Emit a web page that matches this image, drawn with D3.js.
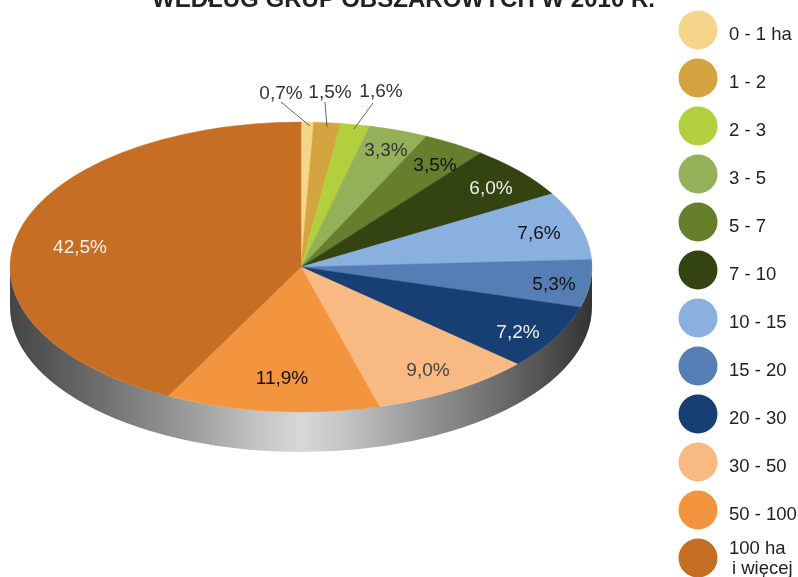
<!DOCTYPE html>
<html>
<head>
<meta charset="utf-8">
<script src="https://cdn.jsdelivr.net/npm/d3@7"></script>
<style>
  html, body { margin: 0; background: #fff; }
  svg { display: block; filter: blur(0.35px); }
  text { font-family: "Liberation Sans", Arial, sans-serif; }
</style>
</head>
<body>
<svg id="visArea" width="798" height="577"></svg>
<script>
const groups = ['0 - 1 ha', '1 - 2', '2 - 3', '3 - 5', '5 - 7', '7 - 10', '10 - 15', '15 - 20', '20 - 30', '30 - 50', '50 - 100', '100 ha|i więcej']
const shares = [0.7, 1.5, 1.6, 3.3, 3.5, 6.0, 7.6, 5.3, 7.2, 9.0, 11.9, 42.5]
const colors = ['#f5d58a', '#d3a43f', '#b2cf3d', '#94b058', '#667f2d', '#344312', '#8ab0df', '#547eb4', '#173f74', '#f8ba82', '#f3953f', '#c56e24']

// label placement
const labelAt = [[281, 92], [330, 91], [381, 90], [386, 149], [435, 164], [491, 187], [539, 232], [554, 283], [518, 331], [428, 369], [282, 377], [80, 246]]
const labelColor = ['#333', '#333', '#333', '#333', '#111', '#eee', '#111', '#111', '#eee', '#444', '#111', '#f4f4f4']
const leaders = [[[281, 102], [310, 126]], [[325, 102], [327, 127]], [[373, 103], [354, 129]]]

const cx = 301
const cy = 267
const rx = 291
const ry = 145
const depth = 40

const svg = d3.select('#visArea')

const grad = svg.append('defs').append('linearGradient')
  .attr('id', 'side')
  .attr('gradientUnits', 'userSpaceOnUse')
  .attr('x1', cx - rx).attr('x2', cx + rx)
  .attr('y1', 0).attr('y2', 0)

grad.selectAll('stop')
  .data([[0, '#444'], [0.14, '#6a6a6a'], [0.3, '#999'], [0.42, '#c2c2c2'], [0.5, '#d8d8d8'], [0.58, '#c2c2c2'], [0.7, '#999'], [0.86, '#666'], [1, '#333']])
  .join('stop')
  .attr('offset', d => d[0])
  .attr('stop-color', d => d[1])

// side wall of the disc
svg.append('path')
  .attr('fill', 'url(#side)')
  .attr('d', `M${cx - rx},${cy} A${rx},${ry} 0 0 0 ${cx + rx},${cy} L${cx + rx},${cy + depth} A${rx},${ry} 0 0 1 ${cx - rx},${cy + depth} Z`)

const pie = d3.pie().sort(null)
const arc = d3.arc().innerRadius(0).outerRadius(rx)

// top face: a circle squashed into an ellipse
svg.append('g')
  .attr('transform', `translate(${cx},${cy}) scale(1,${ry / rx})`)
  .selectAll('path')
  .data(pie(shares))
  .join('path')
  .attr('d', arc)
  .attr('fill', (d, i) => colors[i])
  .attr('stroke', (d, i) => colors[i])
  .attr('stroke-width', 0.6)

svg.append('g')
  .selectAll('line')
  .data(leaders)
  .join('line')
  .attr('x1', d => d[0][0])
  .attr('y1', d => d[0][1])
  .attr('x2', d => d[1][0])
  .attr('y2', d => d[1][1])
  .attr('stroke', '#555')
  .attr('stroke-width', 0.9)

svg.append('g')
  .selectAll('text')
  .data(shares)
  .join('text')
  .attr('x', (d, i) => labelAt[i][0])
  .attr('y', (d, i) => labelAt[i][1])
  .attr('text-anchor', 'middle')
  .attr('dominant-baseline', 'central')
  .attr('font-size', 19)
  .attr('fill', (d, i) => labelColor[i])
  .text(d => d.toFixed(1).replace('.', ',') + '%')

svg.append('text')
  .attr('x', 152)
  .attr('y', 7)
  .attr('font-size', 23)
  .attr('font-weight', 'bold')
  .attr('fill', '#222')
  .attr('textLength', 503)
  .attr('lengthAdjust', 'spacingAndGlyphs')
  .text('WEDŁUG GRUP OBSZAROWYCH W 2010 R.')

const legendY = d3.scalePoint().domain(groups).range([30, 558])

const legend = svg.append('g')
  .selectAll('g')
  .data(groups)
  .join('g')
  .attr('transform', d => `translate(698,${legendY(d)})`)

legend.append('circle')
  .attr('r', 19.5)
  .attr('fill', (d, i) => colors[i])

legend.each(function (d) {
  const lines = d.split('|')
  const g = d3.select(this)
  if (lines.length === 1) {
    g.append('text')
      .attr('x', 31)
      .attr('y', 3)
      .attr('dominant-baseline', 'central')
      .attr('font-size', 18.5)
      .attr('fill', '#222')
      .text(d)
  } else {
    g.append('text').attr('x', 31).attr('y', -11).attr('dominant-baseline', 'central')
      .attr('font-size', 18.5).attr('fill', '#222').text(lines[0])
    g.append('text').attr('x', 34).attr('y', 9).attr('dominant-baseline', 'central')
      .attr('font-size', 18.5).attr('fill', '#222').text(lines[1])
  }
})
</script>
</body>
</html>
